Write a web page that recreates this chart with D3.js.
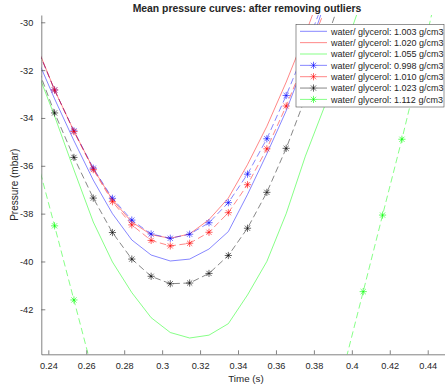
<!DOCTYPE html>
<html>
<head>
<meta charset="utf-8">
<script src="https://cdn.jsdelivr.net/npm/d3@7"></script>
<style>
  body { margin: 0; background: #fff; }
  text { font-family: "Liberation Sans", Arial, Helvetica, sans-serif; fill: #262626; }
</style>
</head>
<body>
<div id="svg-area"></div>
<script>
var svgWidth = 445;
var svgHeight = 391;

// sample times (s)
var times = [0.2332, 0.2433, 0.2535, 0.2637, 0.2738, 0.2840, 0.2942, 0.3043, 0.3145, 0.3247, 0.3349,
  0.3450, 0.3552, 0.3654, 0.3755, 0.3857, 0.3959, 0.4060, 0.4162, 0.4264, 0.4366, 0.4467];

// mean pressure (mbar), null = no value
var p1003 = [-31.35, -33.2, -34.95, -36.6, -38.0, -39.1, -39.73, -39.98, -39.9, -39.48, -38.75,
  -37.2, -35.5, -33.7, -31.6, -29.2, null, null, null, null, null, null];
var p1020 = [-30.86, -32.83, -34.55, -36.12, -37.42, -38.35, -38.88, -39.03, -38.85, -38.25, -37.35,
  -35.95, -34.35, -32.5, -30.5, -28.3, null, null, null, null, null, null];
var p1055 = [-31.85, -33.92, -36.17, -38.35, -40.02, -41.3, -42.35, -42.97, -43.2, -43.08, -42.6,
  -41.4, -40.0, -38.0, -35.6, -33.5, -31.2, -28.9, null, null, null, null];
var p0998 = [-30.9, -32.83, -34.54, -36.10, -37.36, -38.27, -38.85, -39.03, -38.86, -38.38, -37.54,
  -36.35, -34.87, -33.06, -31.1, -29.0, null, null, null, null, null, null];
var p1010 = [-30.9, -32.83, -34.57, -36.16, -37.5, -38.47, -39.12, -39.35, -39.24, -38.78, -37.96,
  -36.79, -35.29, -33.5, -31.55, -29.5, null, null, null, null, null, null];
var p1023 = [-31.65, -33.79, -35.65, -37.35, -38.79, -39.9, -40.62, -40.93, -40.9, -40.5, -39.75,
  -38.61, -37.11, -35.27, -33.16, -30.95, -28.6, null, null, null, null, null];
var p1112 = [-35.5, -38.51, -41.61, -44.7, null, null, null, null, null, null, null,
  null, null, null, null, null, -44.4, -41.26, -38.06, -34.89, -31.55, -28.1];

var seriesNames = ["water/ glycerol: 1.003 g/cm3", "water/ glycerol: 1.020 g/cm3", "water/ glycerol: 1.055 g/cm3",
  "water/ glycerol: 0.998 g/cm3", "water/ glycerol: 1.010 g/cm3", "water/ glycerol: 1.023 g/cm3", "water/ glycerol: 1.112 g/cm3"];
var seriesValues = [p1003, p1020, p1055, p0998, p1010, p1023, p1112];
var seriesColors = ["#0000ff", "#ff0000", "#00ff00", "#0000ff", "#ff0000", "#000000", "#00ff00"];
var seriesStars = [false, false, false, true, true, true, true];

var xTicks = [0.24, 0.26, 0.28, 0.3, 0.32, 0.34, 0.36, 0.38, 0.4, 0.42, 0.44];
var yTicks = [-30, -32, -34, -36, -38, -40, -42];

var plotLeft = 41.3, plotTop = 15, plotRight = 453, plotBottom = 354.3;

var svg = d3.select("#svg-area")
  .append("svg")
  .attr("width", svgWidth)
  .attr("height", svgHeight);

var x = d3.scaleLinear().domain([0.2363, 0.45333]).range([plotLeft, plotRight]);
var y = d3.scaleLinear().domain([-43.881, -29.695]).range([plotBottom, plotTop]);

svg.append("defs").append("clipPath").attr("id", "plot")
  .append("rect").attr("x", plotLeft).attr("y", plotTop)
  .attr("width", plotRight - plotLeft).attr("height", plotBottom - plotTop);

var plot = svg.append("g").attr("clip-path", "url(#plot)");

var line = d3.line()
  .defined(function(d) { return d[1] !== null; })
  .x(function(d) { return x(d[0]); })
  .y(function(d) { return y(d[1]); });

function star(g, cx, cy, color) {
  var r = 3.6, q = r * 0.72;
  var p = "M" + (cx - r) + "," + cy + "L" + (cx + r) + "," + cy +
    "M" + cx + "," + (cy - r) + "L" + cx + "," + (cy + r) +
    "M" + (cx - q) + "," + (cy - q) + "L" + (cx + q) + "," + (cy + q) +
    "M" + (cx - q) + "," + (cy + q) + "L" + (cx + q) + "," + (cy - q);
  g.append("path").attr("d", p).attr("stroke", color).attr("stroke-width", 0.7)
    .attr("stroke-opacity", 0.85).attr("fill", "none");
}

seriesValues.forEach(function(vals, i) {
  var pts = times.map(function(t, j) { return [t, vals[j]]; });
  plot.append("path")
    .attr("d", line(pts))
    .attr("fill", "none")
    .attr("stroke", seriesColors[i])
    .attr("stroke-width", 0.6)
    .attr("stroke-opacity", 0.8)
    .attr("stroke-dasharray", seriesStars[i] ? "6.5,3.5" : null);
  if (seriesStars[i]) {
    pts.forEach(function(d) {
      if (d[1] !== null) star(plot, x(d[0]), y(d[1]), seriesColors[i]);
    });
  }
});

// axes
var xAxis = d3.axisBottom(x).tickValues(xTicks).tickSizeInner(-4).tickSizeOuter(0).tickPadding(8)
  .tickFormat(function(d) { return String(d); });
var yAxis = d3.axisLeft(y).tickValues(yTicks).tickSizeInner(-4).tickSizeOuter(0).tickPadding(8)
  .tickFormat(function(d) { return String(d); });

var gx = svg.append("g").attr("transform", "translate(0," + plotBottom + ")").call(xAxis);
var gy = svg.append("g").attr("transform", "translate(" + plotLeft + ",0)").call(yAxis);
[gx, gy].forEach(function(g) {
  g.select(".domain").attr("stroke", "#4d4d4d").attr("stroke-width", 0.7);
  g.selectAll(".tick line").attr("stroke", "#4d4d4d").attr("stroke-width", 0.7);
  g.selectAll(".tick text").attr("font-size", "9.2px").attr("fill", "#262626")
    .attr("font-family", "Liberation Sans, Arial, sans-serif");
});

svg.append("text").attr("x", 246).attr("y", 382).attr("text-anchor", "middle")
  .attr("font-size", "9.8px").text("Time (s)");
svg.append("text").attr("transform", "translate(18,184.7) rotate(-90)").attr("text-anchor", "middle")
  .attr("font-size", "10px").text("Pressure (mbar)");
svg.append("text").attr("x", 247).attr("y", 12).attr("text-anchor", "middle")
  .attr("font-size", "10.4px").attr("font-weight", "bold").attr("fill", "#000").text("Mean pressure curves: after removing outliers");

// legend
var lg = svg.append("g");
lg.append("rect").attr("x", 296).attr("y", 24.5).attr("width", 148).attr("height", 82.5)
  .attr("fill", "#fff").attr("stroke", "#4d4d4d").attr("stroke-width", 0.6);
seriesNames.forEach(function(name, i) {
  var yy = 31.3 + i * 11.35;
  lg.append("line").attr("x1", 300).attr("x2", 327).attr("y1", yy).attr("y2", yy)
    .attr("stroke", seriesColors[i]).attr("stroke-width", 0.6).attr("stroke-opacity", 0.8)
    .attr("stroke-dasharray", seriesStars[i] ? "10,7" : null);
  if (seriesStars[i]) star(lg, 313.5, yy, seriesColors[i]);
  lg.append("text").attr("x", 331).attr("y", yy + 3.2).attr("font-size", "9px").text(name);
});
</script>
</body>
</html>
